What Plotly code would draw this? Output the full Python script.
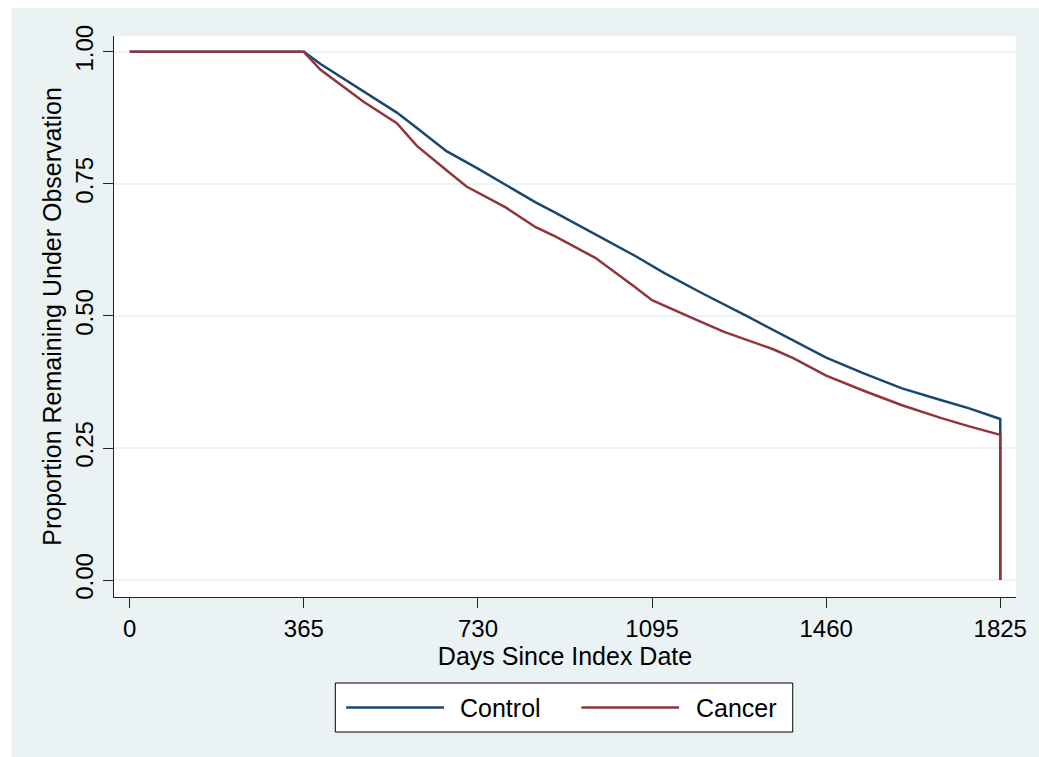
import plotly.graph_objects as go

# ---- data ----
control_days = [0, 365, 400, 457, 491, 560, 602, 664, 730, 789, 851, 893, 1000, 1059,
                1121, 1200, 1293, 1349, 1391, 1460, 1540, 1619, 1700, 1760, 1825, 1825]
control_surv = [1.0, 1.0, 0.977, 0.944, 0.925, 0.885, 0.856, 0.812, 0.779, 0.748, 0.715,
                0.695, 0.643, 0.614, 0.581, 0.543, 0.500, 0.474, 0.453, 0.421, 0.391,
                0.363, 0.341, 0.325, 0.305, 0.0]

cancer_days = [0, 365, 400, 457, 491, 560, 602, 664, 706, 789, 851, 893, 976, 1059,
               1095, 1169, 1246, 1349, 1391, 1460, 1540, 1619, 1700, 1760, 1825, 1825]
cancer_surv = [1.0, 1.0, 0.966, 0.928, 0.905, 0.865, 0.822, 0.776, 0.745, 0.705, 0.668,
               0.650, 0.610, 0.555, 0.530, 0.500, 0.470, 0.437, 0.420, 0.387, 0.358,
               0.331, 0.307, 0.291, 0.275, 0.0]

series_names = ["Control", "Cancer"]
series_colors = ["#1A476F", "#90353B"]

x_ticks = [0, 365, 730, 1095, 1460, 1825]
y_ticks = [0, 0.25, 0.5, 0.75, 1.0]
y_tick_text = ["0.00", "0.25", "0.50", "0.75", "1.00"]

x_title = "Days Since Index Date"
y_title = "Proportion Remaining Under Observation"

# ---- geometry helpers (pixels -> paper) ----
W, H = 1039, 757
L, R, T, B = 114, 12, 36, 160
PW, PH = W - L - R, H - T - B


def px(x):
    return (x - L) / PW


def py(y):
    return (H - B - y) / PH


FONT = "Liberation Sans, Arial, sans-serif"
PANEL = "#EAF2F3"
LW = 2.5

fig = go.Figure()
fig.add_trace(go.Scatter(x=control_days, y=control_surv, mode="lines",
                         name=series_names[0], showlegend=False,
                         line=dict(color=series_colors[0], width=LW)))
fig.add_trace(go.Scatter(x=cancer_days, y=cancer_surv, mode="lines",
                         name=series_names[1], showlegend=False,
                         line=dict(color=series_colors[1], width=LW)))

shapes = []
# white strips left and top of the panel
shapes.append(dict(type="rect", xref="paper", yref="paper", x0=px(-20), x1=px(10),
                   y0=py(H + 20), y1=py(-20), fillcolor="white", line=dict(width=0),
                   layer="below"))
shapes.append(dict(type="rect", xref="paper", yref="paper", x0=px(-20), x1=px(W + 20),
                   y0=py(8), y1=py(-20), fillcolor="white", line=dict(width=0),
                   layer="below"))
# legend box
shapes.append(dict(type="rect", xref="paper", yref="paper", x0=px(338), x1=px(801),
                   y0=py(732), y1=py(683), fillcolor="white",
                   line=dict(color="#000000", width=1)))
leg_y = 707.5
shapes.append(dict(type="line", xref="paper", yref="paper", x0=px(349), x1=px(448),
                   y0=py(leg_y), y1=py(leg_y), line=dict(color=series_colors[0], width=LW)))
shapes.append(dict(type="line", xref="paper", yref="paper", x0=px(587), x1=px(686),
                   y0=py(leg_y), y1=py(leg_y), line=dict(color=series_colors[1], width=LW)))

annotations = [
    dict(text=series_names[0], xref="paper", yref="paper", x=px(462), y=py(leg_y),
         xanchor="left", yanchor="middle", showarrow=False,
         font=dict(family=FONT, size=25, color="black")),
    dict(text=series_names[1], xref="paper", yref="paper", x=px(701), y=py(leg_y),
         xanchor="left", yanchor="middle", showarrow=False,
         font=dict(family=FONT, size=25, color="black")),
]

fig.update_layout(
    width=W, height=H,
    margin=dict(l=L, r=R, t=T, b=B, pad=0),
    paper_bgcolor=PANEL,
    plot_bgcolor="white",
    shapes=shapes,
    annotations=annotations,
    showlegend=False,
    font=dict(family=FONT, color="black"),
)

fig.update_xaxes(
    range=[-33, 1858], tickvals=x_ticks, ticks="outside", ticklen=10, tickwidth=1,
    tickcolor="#222222", showline=True, linecolor="#222222", linewidth=1,
    showgrid=False, zeroline=False, tickfont=dict(family=FONT, size=24, color="black"),
    title=dict(text=x_title, font=dict(family=FONT, size=25, color="black"), standoff=4),
)
fig.update_yaxes(
    range=[-0.032, 1.030], tickvals=y_ticks, ticktext=y_tick_text, tickangle=-90,
    ticks="outside", ticklen=10, tickwidth=1, tickcolor="#222222",
    showline=True, linecolor="#222222", linewidth=1,
    showgrid=True, gridcolor=PANEL, gridwidth=2, zeroline=False,
    tickfont=dict(family=FONT, size=24, color="black"),
    title=dict(text=y_title, font=dict(family=FONT, size=25, color="black"), standoff=2),
)

fig.write_html("out.html")
